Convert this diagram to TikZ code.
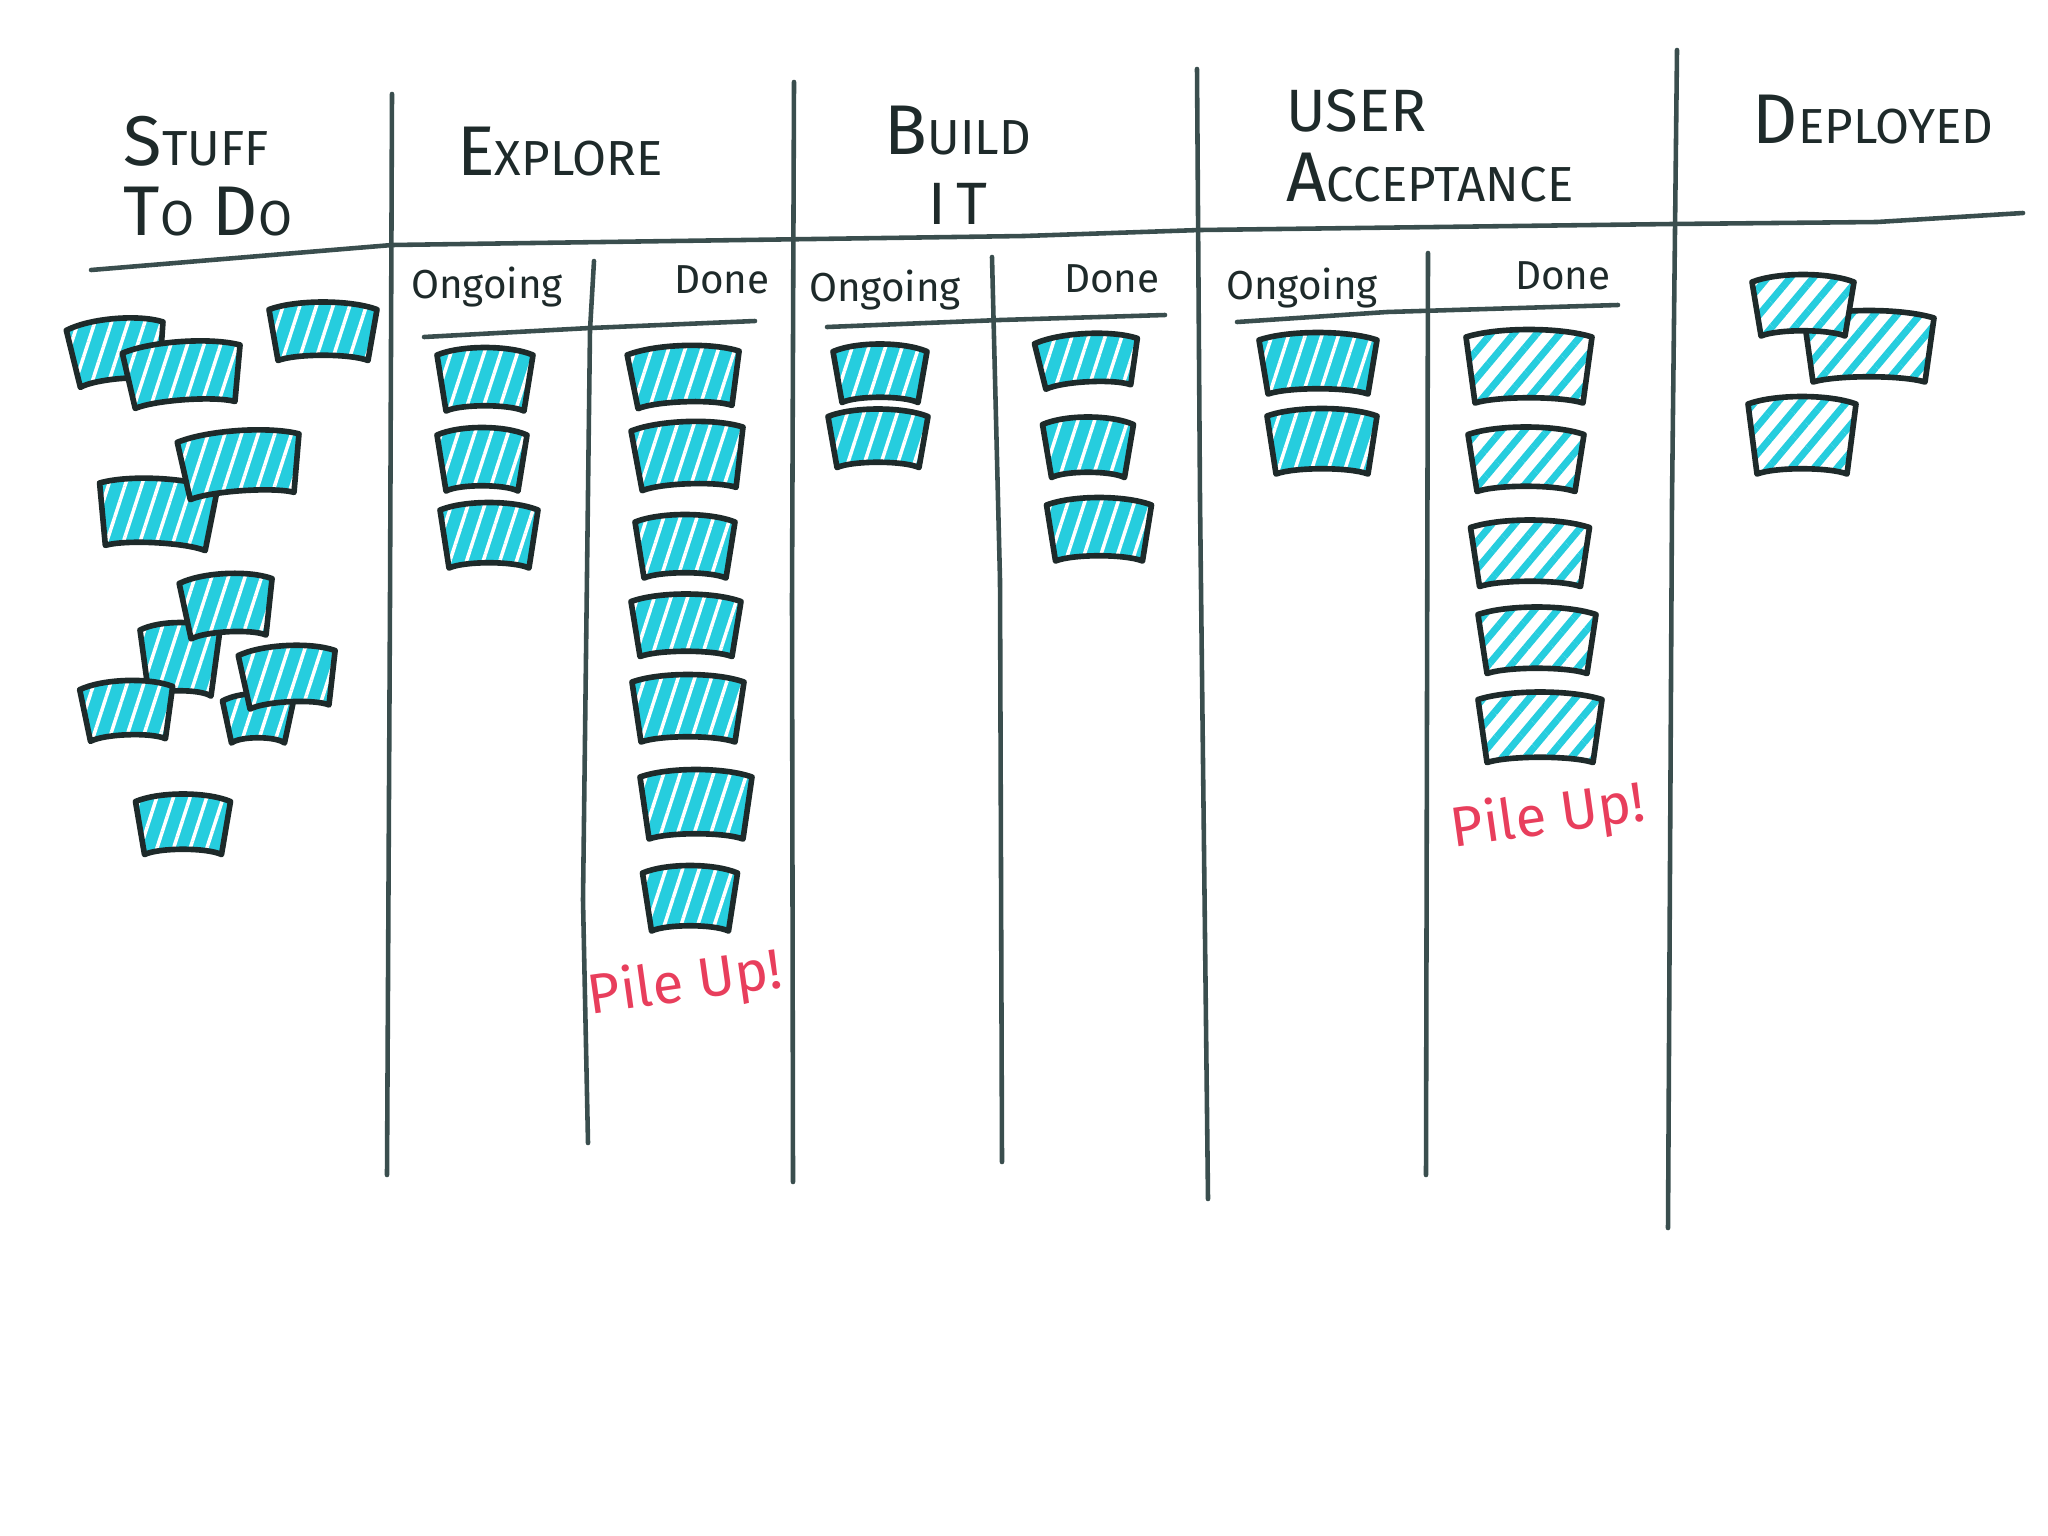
\documentclass[tikz,border=0pt]{standalone}
\usepackage{fontspec}
\setmainfont{Fira Sans}
\usetikzlibrary{patterns.meta}
\definecolor{board}{RGB}{58,78,78}
\definecolor{ink}{RGB}{30,42,42}
\definecolor{marker}{RGB}{38,205,222}
\definecolor{pileup}{RGB}{232,62,92}
\newcommand{\hc}[2]{{\fontsize{20}{24}\selectfont #1}{\fontsize{14}{17}\selectfont #2}}
\tikzset{
  boardline/.style={board,line width=1.3pt,line cap=round,line join=round},
  cardedge/.style={ink,line width=1.6pt,line join=round},
  dense/.style={preaction={fill=marker},preaction={pattern={Lines[angle=72,distance=4.5pt,line width=1pt]},pattern color=white}},
  light/.style={preaction={fill=white},preaction={pattern={Lines[angle=50,distance=5pt,line width=2pt]},pattern color=marker}},
  pics/card/.style n args={3}{code={
    \draw[cardedge,#3] ({-#1/2},{-#2/2+4}) .. controls ({-#1/4},{-#2/2-6}) and ({#1/4},{-#2/2-6}) .. ({#1/2},{-#2/2+4})
      -- ({#1/2-9},{#2/2}) .. controls ({#1/4},{#2/2-7}) and ({-#1/4},{#2/2-7}) .. ({-#1/2+9},{#2/2}) -- cycle;
  }},
  head/.style={align=left,text=ink,inner sep=0pt,font=\fontsize{20}{20}\selectfont},
  sub/.style={text=ink,inner sep=0pt,font=\fontsize{11.5}{14}\selectfont},
  pile/.style={text=pileup,inner sep=0pt,rotate=8,font=\fontsize{16}{19}\selectfont}
}
\begin{document}
\begin{tikzpicture}[x=0.01cm,y=-0.01cm]
\useasboundingbox (0,0) rectangle (2048,1536);

\draw[boardline] (91,270) -- (392,245) -- (1024,236) -- (1200,230) -- (1672,224) -- (1877,222) -- (2023,213);
\draw[boardline] (392,94) -- (390,600) -- (387,1175);
\draw[boardline] (794,82) -- (792,600) -- (793,1182);
\draw[boardline] (1197,69) -- (1200,500) -- (1208,1199);
\draw[boardline] (1677,50) -- (1672,500) -- (1668,1228);

\draw[boardline] (594,261) -- (590,330) -- (583,900) -- (588,1143);
\draw[boardline] (992,257) -- (1000,580) -- (1002,1162);
\draw[boardline] (1428,253) -- (1427,700) -- (1426,1175);

\draw[boardline] (424,337) -- (590,328) -- (755,321);
\draw[boardline] (827,327) -- (1000,320) -- (1165,315);
\draw[boardline] (1237,322) -- (1387,312) -- (1618,305);

\node[head] (stuff) at (208,176) {\hc{S}{TUFF}\\\hc{T}{O} \hc{D}{O}};
\node[head] (explore) at (560,152) {\hc{E}{XPLORE}};
\node[head,align=center] (build) at (958,165) {\hc{B}{UILD}\\{\fontsize{17}{20}\selectfont I\,T}};
\node[head] (user) at (1430,146) {{\fontsize{17}{20}\selectfont USER}\\\hc{A}{CCEPTANCE}};
\node[head] (deployed) at (1873,120) {\hc{D}{EPLOYED}};

\node[sub] (xong) at (487,287) {Ongoing};
\node[sub] (xdone) at (722,280) {Done};
\node[sub] (bong) at (885,290) {Ongoing};
\node[sub] (bdone) at (1112,279) {Done};
\node[sub] (uong) at (1302,288) {Ongoing};
\node[sub] (udone) at (1563,276) {Done};

\pic[rotate=5] (s1) at (117,353) {card={97}{62}{dense}};
\pic[rotate=4] (s2) at (183,375) {card={118}{60}{dense}};
\pic (s3) at (323,333) {card={108}{55}{dense}};
\pic[rotate=-3] (s5) at (157,515) {card={118}{66}{dense}};
\pic[rotate=4] (s4) at (240,465) {card={122}{62}{dense}};
\pic (s7) at (180,661) {card={80}{70}{dense}};
\pic[rotate=3] (s6) at (227,607) {card={93}{60}{dense}};
\pic[rotate=2] (s8) at (127,712) {card={93}{56}{dense}};
\pic (s10) at (258,720) {card={71}{46}{dense}};
\pic[rotate=3] (s9) at (288,678) {card={97}{58}{dense}};
\pic (s11) at (183,826) {card={95}{57}{dense}};

\pic (xo1) at (485,381) {card={96}{60}{dense}};
\pic (xo2) at (482,461) {card={90}{60}{dense}};
\pic (xo3) at (489,537) {card={98}{62}{dense}};

\pic[rotate=2] (xd1) at (684,378) {card={112}{58}{dense}};
\pic[rotate=2] (xd2) at (688,457) {card={112}{64}{dense}};
\pic (xd3) at (685,548) {card={100}{60}{dense}};
\pic (xd4) at (686,627) {card={110}{59}{dense}};
\pic (xd5) at (688,710) {card={112}{64}{dense}};
\pic (xd6) at (696,806) {card={112}{66}{dense}};
\pic (xd7) at (690,900) {card={95}{62}{dense}};

\pic (bo1) at (880,375) {card={94}{55}{dense}};
\pic (bo2) at (878,440) {card={100}{55}{dense}};

\pic[rotate=3] (bd1) at (1087,362) {card={103}{50}{dense}};
\pic (bd2) at (1088,449) {card={91}{57}{dense}};
\pic (bd3) at (1099,531) {card={105}{60}{dense}};

\pic (uo1) at (1318,365) {card={118}{58}{dense}};
\pic (uo2) at (1322,443) {card={110}{62}{dense}};

\pic (ud1) at (1529,368) {card={126}{70}{light}};
\pic (ud2) at (1526,461) {card={116}{61}{light}};
\pic (ud3) at (1530,555) {card={119}{63}{light}};
\pic (ud4) at (1537,642) {card={118}{63}{light}};
\pic (ud5) at (1540,729) {card={124}{67}{light}};

\pic (dp2) at (1869,348) {card={130}{68}{light}};
\pic (dp1) at (1803,307) {card={102}{58}{light}};
\pic (dp3) at (1802,437) {card={108}{74}{light}};

\node[pile] (xpile) at (685,985) {Pile Up!};
\node[pile] (upile) at (1548,818) {Pile Up!};
\end{tikzpicture}
\end{document}
